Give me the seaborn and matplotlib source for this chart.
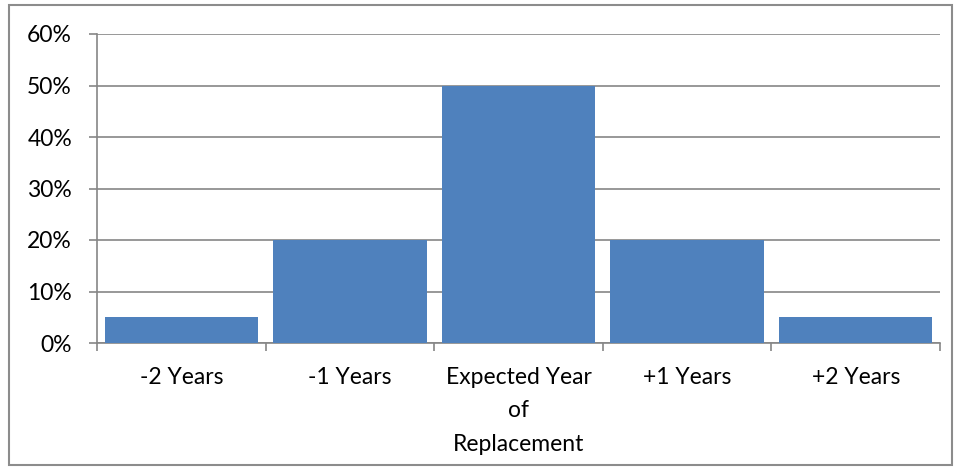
import matplotlib
matplotlib.use("Agg")
import matplotlib.pyplot as plt
from matplotlib.patches import Rectangle
from matplotlib.ticker import PercentFormatter, FixedLocator
import seaborn as sns
import pandas as pd

categories = ["-2 Years", "-1 Years", "Expected Year\nof\nReplacement", "+1 Years", "+2 Years"]
shares = [0.05, 0.20, 0.50, 0.20, 0.05]

sns.set_style("white")
plt.rcParams["font.family"] = ["Lato", "DejaVu Sans"]

BAR = "#4F81BD"
GRID = "#868686"

df = pd.DataFrame({"period": categories, "share": shares})

fig = plt.figure(figsize=(9.6, 4.7), dpi=100)
fig.patch.set_facecolor("white")
# chart frame
fig.add_artist(Rectangle((9 / 960, 5 / 470), 943 / 960, 460 / 470,
                         transform=fig.transFigure, fill=False,
                         edgecolor="#8c8c8c", linewidth=1.5))

ax = fig.add_axes([97 / 960, 127 / 470, 843 / 960, 309 / 470])
sns.barplot(data=df, x="period", y="share", color=BAR, saturation=1,
            width=0.91, linewidth=0, ax=ax, zorder=3)

ax.set_ylim(0, 0.6)
ax.set_xlim(-0.5, 4.5)
ax.set_yticks([0, 0.1, 0.2, 0.3, 0.4, 0.5, 0.6])
ax.yaxis.set_major_formatter(PercentFormatter(1.0, decimals=0))
ax.yaxis.grid(True, color=GRID, linewidth=1.2, zorder=0)
ax.set_axisbelow(True)
ax.set_xlabel("")
ax.set_ylabel("")

for s in ("top", "right"):
    ax.spines[s].set_visible(False)
for s in ("left", "bottom"):
    ax.spines[s].set_color(GRID)
    ax.spines[s].set_linewidth(1.2)

ax.tick_params(axis="y", length=6, width=1.2, color=GRID, pad=12,
               labelsize=16.5, labelcolor="black", left=True, direction="out")
ax.tick_params(axis="x", which="major", length=0, pad=17,
               labelsize=16.5, labelcolor="black")
ax.xaxis.set_minor_locator(FixedLocator([-0.5, 0.5, 1.5, 2.5, 3.5, 4.5]))
ax.tick_params(axis="x", which="minor", length=6, width=1.2, color=GRID,
               bottom=True, direction="out")
for lab in ax.get_xticklabels():
    lab.set_linespacing(1.75)
    lab.set_verticalalignment("top")

fig.savefig("out.png", dpi=100, facecolor="white")
